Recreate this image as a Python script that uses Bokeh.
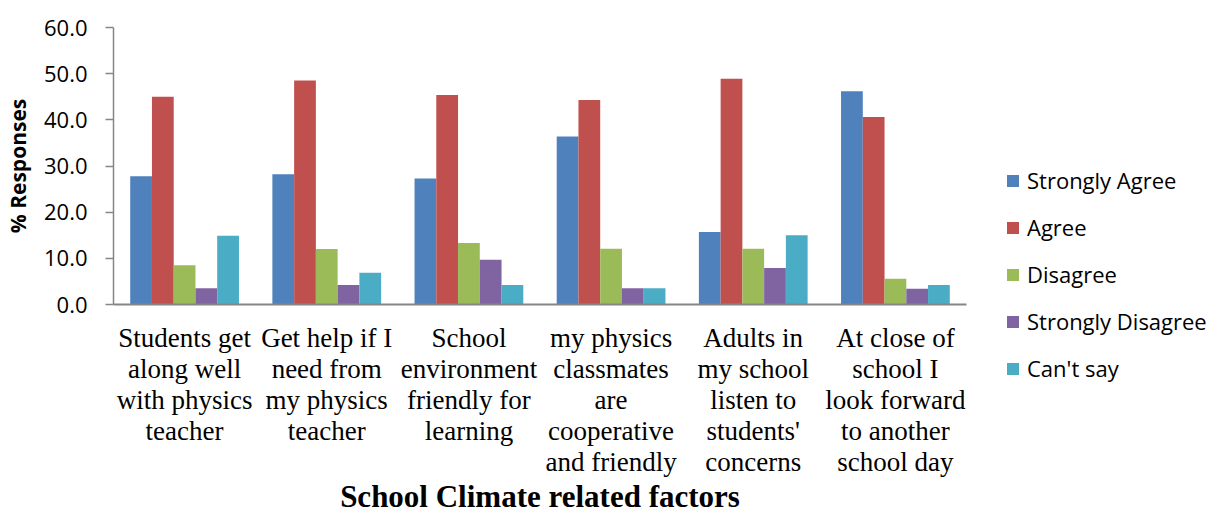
from bokeh.plotting import figure
from bokeh.models import (ColumnDataSource, FactorRange, Range1d, Legend, LegendItem,
                          PrintfTickFormatter, Title)
from bokeh.transform import dodge
from bokeh.embed import file_html
from bokeh.resources import INLINE

categories = [
    "Students get\nalong well\nwith physics\nteacher",
    "Get help if I\nneed from\nmy physics\nteacher",
    "School\nenvironment\nfriendly for\nlearning",
    "my physics\nclassmates\nare\ncooperative\nand friendly",
    "Adults in\nmy school\nlisten to\nstudents'\nconcerns",
    "At close of\nschool I\nlook forward\nto another\nschool day",
]
series_names = ["Strongly Agree", "Agree", "Disagree", "Strongly Disagree", "Can't say"]
strongly_agree = [27.8, 28.2, 27.3, 36.4, 15.7, 46.2]
agree = [45.0, 48.5, 45.4, 44.3, 48.9, 40.6]
disagree = [8.5, 12.0, 13.3, 12.1, 12.1, 5.6]
strongly_disagree = [3.5, 4.2, 9.7, 3.5, 7.9, 3.4]
cant_say = [14.9, 6.9, 4.2, 3.5, 15.0, 4.2]
y_ticks = [0, 10, 20, 30, 40, 50, 60]
colors = ["#4F81BD", "#C0504D", "#9BBB59", "#8064A2", "#4BACC6"]

series_values = [strongly_agree, agree, disagree, strongly_disagree, cant_say]
data = {"cat": categories}
keys = ["s0", "s1", "s2", "s3", "s4"]
for k, v in zip(keys, series_values):
    data[k] = v
source = ColumnDataSource(data)

FRAME_L, FRAME_T, FRAME_W, FRAME_H = 113, 27, 853, 277

p = figure(x_range=FactorRange(*categories, range_padding=0),
           y_range=Range1d(0, 60),
           frame_width=FRAME_W, frame_height=FRAME_H,
           min_border_left=FRAME_L, min_border_right=1213 - FRAME_L - FRAME_W,
           min_border_top=FRAME_T, min_border_bottom=513 - FRAME_T - FRAME_H,
           output_backend="svg", toolbar_location=None,
           background_fill_color="white", border_fill_color="white")
p.outline_line_color = None
p.grid.visible = False

bw = 0.153
offsets = [-2 * bw, -bw, 0, bw, 2 * bw]
items = []
for k, name, c, off in zip(keys, series_names, colors, offsets):
    r = p.vbar(x=dodge("cat", off, range=p.x_range), top=k, width=bw, bottom=0,
               source=source, fill_color=c, line_color=None)
    items.append(LegendItem(label=name, renderers=[r]))

# y axis
p.yaxis.ticker = y_ticks
p.yaxis.formatter = PrintfTickFormatter(format="%.1f")
p.yaxis.major_label_text_font = "Open Sans"
p.yaxis.major_label_text_font_size = "22px"
p.yaxis.major_label_text_color = "#000000"
p.yaxis.axis_line_color = "#868686"
p.yaxis.axis_line_width = 1.5
p.yaxis.major_tick_line_color = "#868686"
p.yaxis.major_tick_line_width = 1.5
p.yaxis.major_tick_out = 8
p.yaxis.major_tick_in = 0
p.yaxis.minor_tick_line_color = None
p.yaxis.major_label_standoff = 18
p.yaxis.axis_label = "% Responses"
p.yaxis.axis_label_text_font = "Open Sans"
p.yaxis.axis_label_text_font_style = "bold"
p.yaxis.axis_label_text_font_size = "21px"
p.yaxis.axis_label_text_color = "#000000"
p.yaxis.axis_label_standoff = 9

# x axis
p.xaxis.axis_line_color = "#868686"
p.xaxis.axis_line_width = 2
p.xaxis.major_tick_line_color = None
p.xaxis.minor_tick_line_color = None
p.xaxis.major_label_text_font = "Liberation Serif"
p.xaxis.major_label_text_font_size = "27px"
p.xaxis.major_label_text_line_height = 1.04
p.xaxis.major_label_text_color = "#000000"
p.xaxis.major_label_standoff = 12
p.xaxis.major_label_orientation = "horizontal"

title = Title(text="School Climate related factors", align="center",
              vertical_align="bottom",
              text_font="Liberation Serif", text_font_style="bold",
              text_font_size="31px", text_color="#000000", standoff=-8)
p.add_layout(title, "below")

legend = Legend(items=items, location=(39, -79), orientation="vertical",
                padding=0, margin=0, spacing=17,
                glyph_width=15, glyph_height=15, label_height=30,
                label_standoff=7,
                label_text_font="Open Sans", label_text_font_size="22px",
                label_text_color="#000000",
                border_line_color=None, background_fill_alpha=0)
p.add_layout(legend, "right")

open("out.html", "w").write(file_html(p, INLINE))
